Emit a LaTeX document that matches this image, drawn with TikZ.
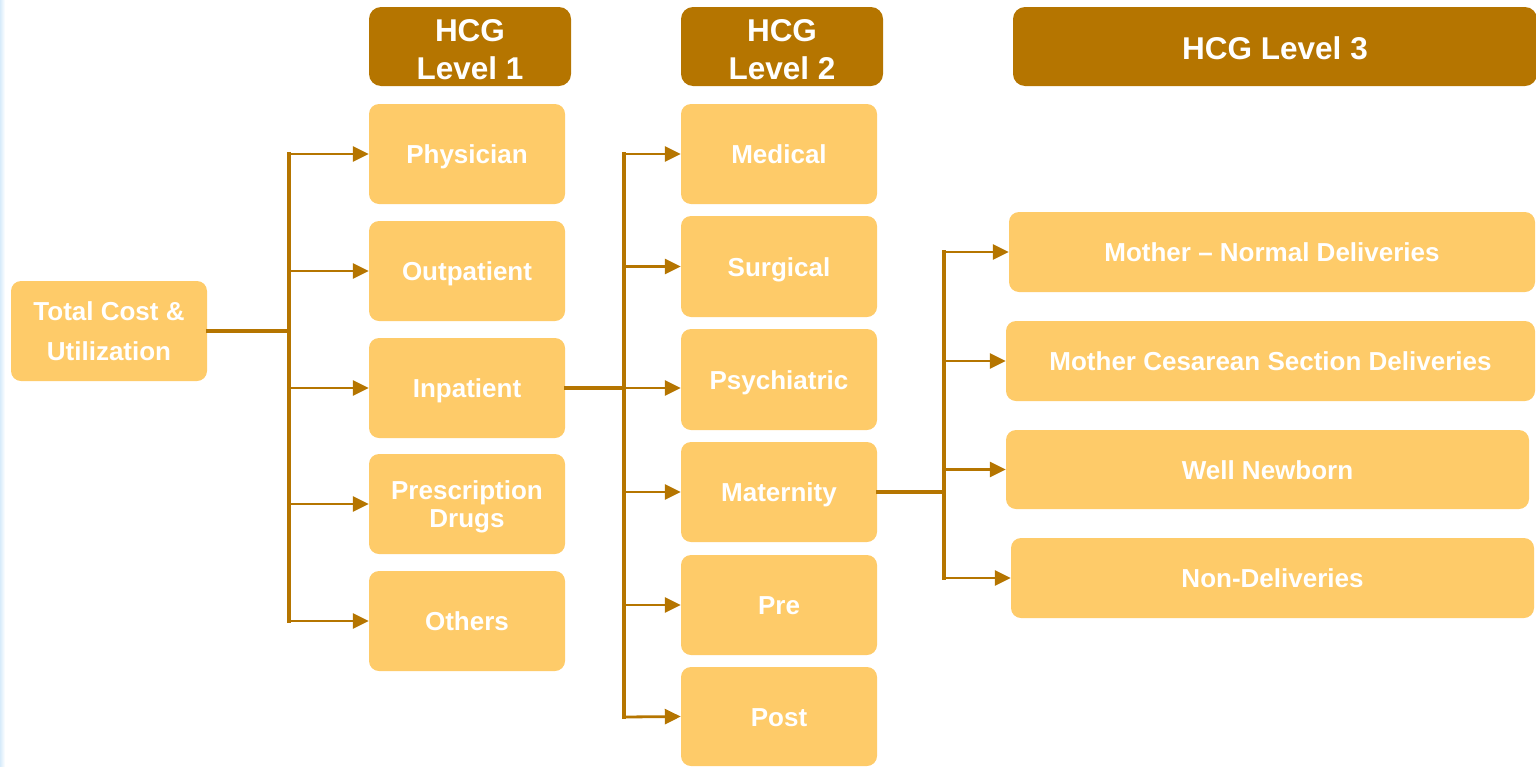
\documentclass[tikz,border=0pt]{standalone}
\usepackage{fontspec}
\setmainfont{Liberation Sans}
\usetikzlibrary{arrows.meta}
\definecolor{hdark}{RGB}{181,117,0}
\definecolor{hlight}{RGB}{254,203,105}
\definecolor{edgeblue}{RGB}{215,235,250}
\tikzset{
  box/.style={fill=hlight, rounded corners=10pt, inner sep=0pt, align=center,
    text=white, font=\fontsize{26}{28}\selectfont\bfseries},
  one/.style={text height=19pt, text depth=0pt},
  hdr/.style={fill=hdark, rounded corners=12pt, inner sep=0pt, align=center,
    text=white, font=\fontsize{31.5}{38}\selectfont\bfseries},
  stem/.style={draw=hdark, line width=3.3pt, line cap=rect},
  branch/.style={draw=hdark, line width=2.8pt, -{Triangle[length=16pt,width=15pt]}},
}
\begin{document}
\begin{tikzpicture}[x=1pt,y=-1pt]
\useasboundingbox (0,0) rectangle (1536,766);
\shade[left color=edgeblue, right color=white] (0,0) rectangle (5,766);

% headers
\node[hdr, minimum width=202pt, minimum height=79pt] (h1) at (470,46.5) {\rule{0pt}{29pt}HCG\\Level 1};
\node[hdr, minimum width=202pt, minimum height=79pt] (h2) at (782,46.5) {\rule{0pt}{29pt}HCG\\Level 2};
\node[hdr, minimum width=524pt, minimum height=79pt, text height=26.5pt, text depth=0pt] (h3) at (1275,46.5) {HCG Level 3};

% root
\node[box, minimum width=196pt, minimum height=100pt, font=\fontsize{26}{40}\selectfont\bfseries] (total) at (109,331) {Total Cost \&\\Utilization};

% level 1
\node[box, one, minimum width=196pt, minimum height=100pt] (phys) at (467,154) {Physician};
\node[box, one, minimum width=196pt, minimum height=100pt] (outp) at (467,271) {Outpatient};
\node[box, one, minimum width=196pt, minimum height=100pt] (inp) at (467,388) {Inpatient};
\node[box, minimum width=196pt, minimum height=100pt, text depth=0pt] (rx) at (467,504) {Prescription\\Drugs};
\node[box, one, minimum width=196pt, minimum height=100pt] (oth) at (467,621) {Others};

% level 2
\node[box, one, minimum width=196pt, minimum height=100pt] (med) at (779,154) {Medical};
\node[box, one, minimum width=196pt, minimum height=101pt] (surg) at (779,266.5) {Surgical};
\node[box, one, minimum width=196pt, minimum height=101pt] (psy) at (779,379.5) {Psychiatric};
\node[box, one, minimum width=196pt, minimum height=100pt] (mat) at (779,492) {Maternity};
\node[box, one, minimum width=196pt, minimum height=100pt] (pre) at (779,605) {Pre};
\node[box, one, minimum width=196pt, minimum height=99pt] (post) at (779,716.5) {Post};

% level 3
\node[box, one, minimum width=526pt, minimum height=80pt] (mnd) at (1272,252) {Mother -- Normal Deliveries};
\node[box, one, minimum width=529pt, minimum height=80pt] (mcs) at (1270.5,361) {Mother Cesarean Section Deliveries};
\node[box, one, minimum width=523pt, minimum height=79pt] (wnb) at (1267.5,469.5) {Well Newborn};
\node[box, one, minimum width=523pt, minimum height=80pt] (nond) at (1272.5,578) {Non-Deliveries};

% trunk coordinates
\coordinate (j1) at (289,331);
\coordinate (j1t) at (289,154);
\coordinate (j1b) at (289,621);
\coordinate (j2) at (624,388);
\coordinate (j2t) at (624,154);
\coordinate (j2b) at (624,717);
\coordinate (j3) at (944,492);
\coordinate (j3t) at (944,252);
\coordinate (j3b) at (944,578);

% root -> level 1
\draw[stem] (total.east) -- (j1);
\draw[stem] (j1t) -- (j1b);
\draw[branch] (j1t) -- (phys.west);
\draw[branch] (j1 |- outp.west) -- (outp.west);
\draw[branch] (j1 |- inp.west) -- (inp.west);
\draw[branch] (j1 |- rx.west) -- (rx.west);
\draw[branch] (j1b) -- (oth.west);

% inpatient -> level 2
\draw[stem] (inp.east) -- (j2);
\draw[stem] (j2t) -- (j2b);
\draw[branch] (j2t) -- (med.west);
\draw[branch] (j2 |- surg.west) -- (surg.west);
\draw[branch] (j2) -- (j2 -| psy.west);
\draw[branch] (j2 |- mat.west) -- (mat.west);
\draw[branch] (j2 |- pre.west) -- (pre.west);
\draw[branch] (j2b) -- (post.west);

% maternity -> level 3
\draw[stem] (mat.east) -- (j3);
\draw[stem] (j3t) -- (j3b);
\draw[branch] (j3t) -- (mnd.west);
\draw[branch] (j3 |- mcs.west) -- (mcs.west);
\draw[branch] (j3 |- wnb.west) -- (wnb.west);
\draw[branch] (j3b) -- (nond.west);
\end{tikzpicture}
\end{document}
